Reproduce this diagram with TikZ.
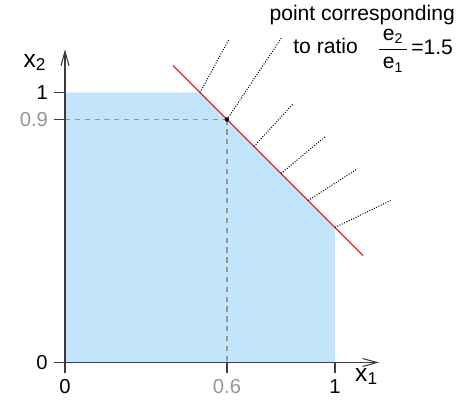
\documentclass[tikz,border=0pt]{standalone}
\usepackage{amsmath}
\usepackage{fontspec}
\setmainfont{Liberation Sans}
\usetikzlibrary{arrows.meta}
\definecolor{feasblue}{RGB}{194,229,252}
\definecolor{budgetred}{RGB}{232,36,36}
\definecolor{axisgray}{RGB}{60,60,60}
\definecolor{guidegray}{RGB}{150,150,150}

\begin{document}
\begin{tikzpicture}[x=5.4cm, y=5.4cm,
      font=\fontsize{11.5}{13.8}\selectfont,
      axis/.style={axisgray, line width=0.6pt},
      arr/.style={axis, -{Straight Barb[length=2.9mm, width=1.6mm]}},
      tick/.style={axis},
      guide/.style={guidegray, line width=0.6pt, dash pattern=on 3pt off 2.6pt},
      budget/.style={budgetred, line width=0.7pt},
      ray/.style={black, line width=0.6pt, dash pattern=on 0.55pt off 0.9pt},
      axlbl/.style={font=\fontsize{14}{16}\selectfont},
      lbl/.style={inner sep=0pt, font=\fontsize{12}{14}\selectfont},
    ]
    \useasboundingbox (-0.2407,-0.15) rectangle (1.4741,1.3426);
    % feasible region
    \fill[feasblue] (0,0) -- (0,1) -- (0.5,1) -- (1,0.5) -- (1,0) -- cycle;
    \coordinate (O) at (0,0);
    \coordinate (P) at (0.6,0.9);
    % guides to the chosen point
    \draw[guide] (0,0.9) -- (P);
    \draw[guide] (P) -- (0.6,0);
    % axes
    \coordinate (xs) at (-0.041,0);
    \coordinate (xe) at (1.163,0);
    \coordinate (ys) at (0,-0.04);
    \coordinate (ye) at (0,1.16);
    \draw[arr] (xs) -- (xe);
    \draw[arr] (ys) -- (ye);
    \draw[tick] (0.6,0) -- (0.6,-0.04);
    \draw[tick] (1,0) -- (1,-0.04);
    \draw[tick] (0,0.9) -- (-0.04,0.9);
    \draw[tick] (0,1) -- (-0.04,1);
    \node[below] (t0) at (ys) {0};
    \node[below, guidegray] (t06) at (0.6,-0.04) {0.6};
    \node[below] (t1) at (1,-0.04) {1};
    \node[left] (s0) at (xs) {0};
    \node[left, guidegray] (s09) at (-0.04,0.9) {0.9};
    \node[left] (s1) at (-0.04,1) {1};
    \node[axlbl] (xa) at (1.117,-0.052) {x\textsubscript{1}};
    \node[axlbl] (ya) at (-0.111,1.111) {x\textsubscript{2}};
    % budget line x1+x2=1.5
    \coordinate (ba) at (0.4,1.1);
    \coordinate (bb) at (1.104,0.396);
    \draw[budget] (ba) -- (bb);
    % directions
    \draw[ray] (0.5,1) -- (0.607,1.196);
    \draw[ray] (P) -- (0.803,1.204);
    \draw[ray] (0.7,0.8) -- (0.843,0.956);
    \draw[ray] (0.8,0.7) -- (0.966,0.838);
    \draw[ray] (0.9,0.6) -- (1.083,0.717);
    \draw[ray] (1,0.5) -- (1.206,0.6);
    \fill (P) circle (0.045cm);
    % annotation
    \node[lbl, anchor=base east] (note1) at (1.445,1.267) {point corresponding};
    \node[lbl, anchor=base west] (note2) at (0.8444,1.143) {to ratio};
    \node[lbl, anchor=base] (ratio) at (1.2148,1.141)
      {$\dfrac{\,\text{e}_{\text{2}}\,}{\,\text{e}_{\text{1}}\,}$};
    \node[lbl, anchor=base west] (val) at (1.2815,1.141) {=1.5};
\end{tikzpicture}
\end{document}
